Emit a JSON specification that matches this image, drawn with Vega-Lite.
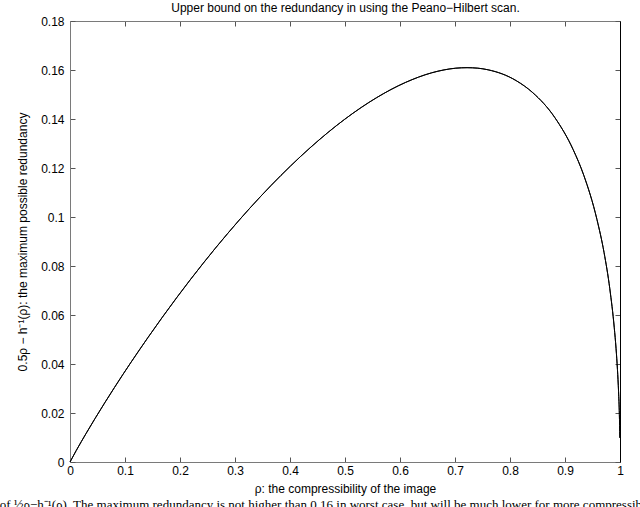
{
  "$schema": "https://vega.github.io/schema/vega-lite/v6.json",
  "autosize": "none",
  "width": 550,
  "height": 441,
  "padding": {"left": 70, "top": 21, "right": 20, "bottom": 45},
  "background": "white",
  "config": {
    "view": {"stroke": null},
    "font": "Liberation Sans",
    "axis": {"grid": false, "domainColor": "#7a7a7a", "tickColor": "#555555", "tickSize": -5, "labelColor": "black", "titleColor": "black", "labelFont": "Liberation Sans", "titleFont": "Liberation Sans", "labelFontSize": 12, "titleFontSize": 12, "titleFontWeight": "normal"}
  },
  "title": {
    "text": "of ½ρ−h⁻¹(ρ). The maximum redundancy is not higher than 0.16 in worst case, but will be much lower for more compressible areas",
    "orient": "bottom",
    "anchor": "start",
    "frame": "bounds",
    "font": "Liberation Serif",
    "fontSize": 13,
    "fontWeight": "normal",
    "color": "black",
    "offset": 5,
    "dx": -17
  },
  "data": {"values": [
    {"rho": 0, "red": 0},
    {"rho": 0.01141, "red": 0.004705},
    {"rho": 0.020815, "red": 0.008407},
    {"rho": 0.029464, "red": 0.011732},
    {"rho": 0.04542, "red": 0.01771},
    {"rho": 0.0808, "red": 0.0304},
    {"rho": 0.1414, "red": 0.0507},
    {"rho": 0.1944, "red": 0.0672},
    {"rho": 0.24229, "red": 0.08115},
    {"rho": 0.2864, "red": 0.0932},
    {"rho": 0.3659, "red": 0.11295},
    {"rho": 0.43646, "red": 0.12823},
    {"rho": 0.469, "red": 0.1345},
    {"rho": 0.52936, "red": 0.14468},
    {"rho": 0.5574, "red": 0.1487},
    {"rho": 0.6098, "red": 0.1549},
    {"rho": 0.65771, "red": 0.15886},
    {"rho": 0.68008, "red": 0.16004},
    {"rho": 0.70148, "red": 0.16074},
    {"rho": 0.7219, "red": 0.16095},
    {"rho": 0.74148, "red": 0.16074},
    {"rho": 0.76016, "red": 0.16008},
    {"rho": 0.8113, "red": 0.15565},
    {"rho": 0.84146, "red": 0.15073},
    {"rho": 0.8813, "red": 0.14065},
    {"rho": 0.91492, "red": 0.12746},
    {"rho": 0.9341, "red": 0.11705},
    {"rho": 0.958044, "red": 0.09902},
    {"rho": 0.971, "red": 0.0855},
    {"rho": 0.98145, "red": 0.07073},
    {"rho": 0.98959, "red": 0.05479},
    {"rho": 0.9928, "red": 0.0464},
    {"rho": 0.99538, "red": 0.03769},
    {"rho": 0.9974, "red": 0.0287},
    {"rho": 0.99885, "red": 0.01942},
    {"rho": 0.99971, "red": 0.00986}
  ]},
  "resolve": {"axis": {"x": "independent", "y": "independent"}},
  "layer": [
    {
      "mark": {"type": "line", "color": "black", "strokeWidth": 1, "interpolate": "monotone"},
      "encoding": {
        "x": {"field": "rho", "type": "quantitative", "scale": {"domain": [0, 1], "nice": false, "zero": false},
              "axis": {"orient": "bottom", "values": [0,0.1,0.2,0.3,0.4,0.5,0.6,0.7,0.8,0.9,1], "labelExpr": "datum.value == 0 ? '0' : datum.value == 1 ? '1' : format(datum.value, '.1f')", "labelPadding": 8, "title": "ρ: the compressibility of the image", "titlePadding": 7, "labelFlush": false}},
        "y": {"field": "red", "type": "quantitative", "scale": {"domain": [0, 0.18], "nice": false},
              "axis": {"orient": "left", "values": [0,0.02,0.04,0.06,0.08,0.1,0.12,0.14,0.16,0.18], "labelExpr": "datum.value == 0 ? '0' : datum.value == 0.1 ? '0.1' : format(datum.value, '.2f')", "labelPadding": 11, "title": "0.5ρ − h⁻¹(ρ): the maximum possible redundancy", "titlePadding": 11, "labelFlush": false}}
      }
    },
    {
      "mark": {"type": "line", "color": "black", "strokeWidth": 1, "interpolate": "monotone"},
      "encoding": {
        "x": {"field": "rho", "type": "quantitative",
              "axis": {"orient": "top", "values": [0,0.1,0.2,0.3,0.4,0.5,0.6,0.7,0.8,0.9,1], "labels": false, "title": "Upper bound on the redundancy in using the Peano−Hilbert scan.", "titlePadding": 6}},
        "y": {"field": "red", "type": "quantitative",
              "axis": {"orient": "right", "values": [0,0.02,0.04,0.06,0.08,0.1,0.12,0.14,0.16,0.18], "labels": false, "title": null, "domainColor": "black"}}
      }
    }
  ]
}
